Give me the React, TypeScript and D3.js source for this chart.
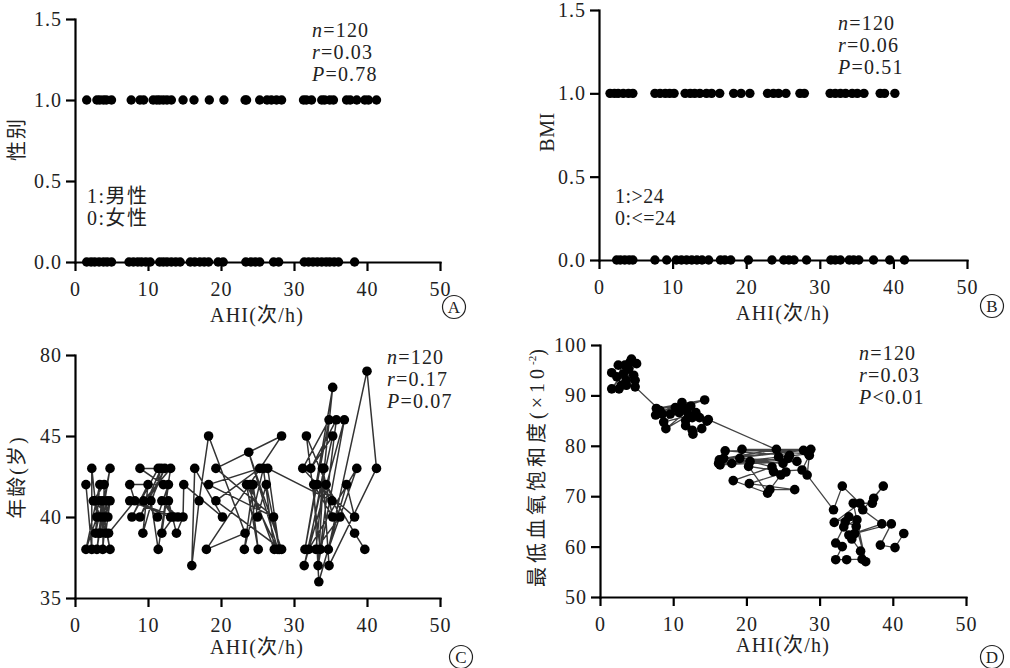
import React, { useEffect, useRef } from 'react';
import * as d3 from 'd3';

// tick values
const ahiTicks = [0, 10, 20, 30, 40, 50];
const binaryTicks = [0, 0.5, 1, 1.5];
const ageTicks = [35, 40, 45, 50];
const ageTickLabels = ['35', '40', '45', '80'];
const spo2Ticks = [50, 60, 70, 80, 90, 100];

// A: gender (1 male / 0 female) vs AHI
const maleAhi = [1.6, 3.0, 3.4, 3.9, 4.3, 5.0, 7.7, 8.9, 9.4, 10.7, 11.2, 11.6, 12.1, 12.6, 13.2, 14.8, 16.3, 18.4, 20.4,
  23.3, 23.5, 25.3, 26.3, 26.9, 27.6, 28.3, 31.3, 31.7, 32.4, 33.8, 34.2, 34.9, 35.4, 37.2, 37.7, 38.6, 39.7, 40.2, 41.3];
const femaleAhi = [1.6, 2.2, 2.7, 3.3, 3.9, 4.4, 5.0, 7.4, 8.0, 8.6, 9.1, 9.7, 10.3, 11.6, 12.1, 12.6, 13.2, 13.8, 14.4,
  15.8, 16.4, 17.1, 17.7, 18.3, 19.6, 20.3, 23.4, 24.1, 24.7, 25.3, 27.2, 27.9, 31.4, 32.0, 32.6, 33.2, 33.8, 34.4, 34.9,
  35.5, 36.1, 38.3];

// B: BMI (1 >24 / 0 <=24) vs AHI
const bmiHighAhi = [1.5, 2.1, 2.6, 3.3, 4.0, 4.6, 7.6, 8.3, 9.0, 9.6, 10.2, 11.7, 12.4, 13.0, 13.7, 14.6, 15.3, 16.4,
  18.3, 19.3, 20.5, 22.9, 23.7, 24.4, 25.4, 27.3, 27.9, 31.4, 32.1, 32.8, 33.5, 34.4, 35.1, 36.0, 38.2, 38.8, 40.2];
const bmiLowAhi = [2.4, 2.9, 3.5, 4.1, 4.6, 7.6, 9.2, 10.5, 11.2, 11.9, 12.6, 13.3, 14.0, 14.9, 16.5, 17.1, 17.9, 20.3,
  23.5, 25.1, 25.8, 26.5, 28.2, 31.5, 32.1, 32.8, 34.0, 34.6, 35.3, 37.3, 39.5, 41.5];

// C: age vs AHI, in record order
const ageAhi = [
  1.5, 2.3, 2.3, 3.0, 1.5, 3.4, 2.8, 3.8, 3.0, 4.8, 3.5, 2.5, 4.0, 3.8, 4.4, 3.2, 4.0, 4.8, 3.4, 4.5, 2.7, 4.2, 4.8, 3.5, 4.6,
  8.2, 7.5, 12.1, 8.9, 11.4, 7.8, 10.0, 9.3, 11.8, 8.9, 12.3, 10.4, 11.4, 13.1, 9.4, 11.3, 12.8, 11.9, 13.5, 11.9, 14.1,
  7.5, 13.1, 12.8, 13.9, 14.8, 14.9,
  20.2, 16.4, 16.0, 17.0, 18.3, 23.3, 18.0, 28.3, 19.3, 27.2, 18.3, 25.3, 19.3, 28.3, 23.8, 27.8, 23.5, 25.1, 24.0, 27.3,
  25.8, 23.2, 24.4, 25.0, 26.2, 28.0, 26.4,
  35.2, 31.2, 34.8, 31.5, 35.3, 33.0, 36.3, 31.7, 33.6, 35.8, 32.3, 35.3, 31.4, 36.9, 33.3, 34.1, 32.0, 38.6, 34.7, 40.0,
  41.3, 34.8, 33.9, 35.3, 32.7, 33.4, 37.2, 38.3, 33.2, 34.4, 38.3, 39.7];
const ageYears = [
  42, 38, 43, 40, 38, 42, 39, 41, 38, 43, 40, 41, 42, 38, 41, 39, 40, 38, 41, 40, 41, 39, 41, 39, 39,
  41, 42, 42, 43, 43, 40, 42, 39, 43, 40, 43, 41, 38, 43, 41, 40, 42, 39, 40, 41, 40,
  41, 40, 41, 39, 40, 42,
  40, 43, 37, 41, 45, 39, 38, 45, 43, 40, 42, 43, 41, 38, 44, 38, 42, 38, 42, 38,
  43, 38, 42, 40, 42, 38, 43,
  41, 43, 46, 38, 48, 38, 40, 45, 38, 46, 43, 45, 37, 46, 37, 43, 38, 43, 38, 49,
  43, 37, 43, 40, 42, 36, 42, 40, 42, 42, 39, 38];

// D: lowest SpO2 vs AHI, in record order
const spo2Ahi = [
  1.6, 3.6, 2.5, 4.1, 1.6, 3.2, 4.3, 2.6, 3.9, 4.6, 2.3, 5.0, 2.9, 3.4, 4.8, 3.6, 4.8,
  8.2, 12.4, 7.7, 14.3, 8.5, 11.2, 7.6, 13.1, 9.6, 11.4, 8.7, 12.1, 9.0, 11.9, 10.3, 12.6, 10.8, 13.6, 11.7, 12.6, 11.7,
  12.7, 13.9, 14.6, 14.8,
  25.9, 17.1, 27.8, 16.3, 24.1, 16.9, 28.8, 19.4, 28.5, 16.2, 25.7, 18.0, 24.4, 16.4, 26.9, 19.1, 25.0, 20.5, 23.5, 18.2,
  22.9, 20.3, 25.4, 20.4, 26.6, 23.2, 24.7, 23.7, 27.6, 28.6, 28.3,
  31.9, 33.1, 35.5, 32.0, 34.0, 32.2, 33.1, 32.2, 33.7, 35.8, 35.6, 34.4, 34.8, 35.1, 33.3, 33.5, 35.0, 36.3, 34.6, 37.2,
  37.4, 38.7, 35.9, 38.5, 34.0, 39.8, 38.3, 40.3, 41.5];
const spo2Values = [
  94.5, 93, 96, 96.6, 91.3, 94.3, 97.2, 91.3, 95.2, 94, 93.7, 96.3, 92, 96, 93, 92, 91.7,
  87, 87.9, 87.4, 89.1, 86.3, 88.6, 86.1, 86.6, 86.3, 87.6, 84.7, 86, 83.4, 86.9, 87.6, 85.6, 86.6, 85.6, 85, 83.1, 84,
  82.3, 83.4, 84.9, 85.2,
  78.1, 79, 79.1, 77.2, 79.3, 77.5, 79.3, 79.3, 78.4, 76.5, 77.5, 76.5, 77.8, 76.2, 76.9, 77.5, 76.5, 76.9, 75.8, 73.1,
  70.6, 75.9, 74.8, 72.5, 71.3, 71.3, 74.2, 74.9, 75.2, 78.1, 74.2,
  67.3, 72, 68.6, 64.8, 65.9, 60.7, 60, 57.4, 57.4, 57.5, 59.1, 61.5, 62.6, 65.3, 63.9, 64.9, 64, 57, 68.6, 68.6,
  69.6, 72, 67.3, 64.5, 62.3, 64.5, 60.3, 59.8, 62.6];

const FONT = '"Liberation Serif", "Times New Roman", "Noto Sans CJK SC", serif';
const TXT = '#222';
const FS = 20;

function drawAxes(g: any, x: any, y: any, yTicks: number[], yFormat: (d: any, i: number) => string) {
  const xa = g.append('g')
    .attr('transform', `translate(0,${y.range()[0]})`)
    .call(d3.axisBottom(x).tickValues(ahiTicks).tickSize(9).tickSizeOuter(0).tickPadding(11));
  const ya = g.append('g')
    .attr('transform', `translate(${x.range()[0]},0)`)
    .call(d3.axisLeft(y).tickValues(yTicks).tickFormat(yFormat).tickSize(9).tickSizeOuter(0).tickPadding(4));
  [xa, ya].forEach((a) => {
    a.attr('font-family', FONT).attr('font-size', FS);
    a.select('.domain').attr('stroke', '#000').attr('stroke-width', 2.2).attr('stroke-linecap', 'square');
    a.selectAll('.tick line').attr('stroke', '#000').attr('stroke-width', 2.2);
    a.selectAll('.tick text').attr('fill', TXT).attr('letter-spacing', 1);
  });
}

function drawStats(g: any, x0: number, y0: number, lines: [string, string][]) {
  lines.forEach(([sym, rest], i) => {
    const t = g.append('text')
      .attr('x', x0).attr('y', y0 + i * 22)
      .attr('font-family', FONT).attr('font-size', FS).attr('letter-spacing', 1.2).attr('fill', TXT);
    t.append('tspan').attr('font-style', 'italic').text(sym);
    t.append('tspan').text(rest);
  });
}

function legendLine(g: any, x: number, y: number, label: string, spacing: number) {
  g.append('text').attr('x', x).attr('y', y)
    .attr('font-family', FONT).attr('font-size', FS)
    .attr('letter-spacing', spacing).attr('fill', TXT)
    .text(label);
}

function xTitle(g: any, cx: number, y: number) {
  g.append('text')
    .attr('x', cx).attr('y', y)
    .attr('text-anchor', 'middle')
    .attr('font-family', FONT).attr('font-size', FS).attr('letter-spacing', 1.2)
    .attr('fill', TXT)
    .text('AHI(次/h)');
}

function yTitle(g: any, cx: number, cy: number, label: string, spacing: number) {
  return g.append('text')
    .attr('transform', `translate(${cx},${cy}) rotate(-90)`)
    .attr('text-anchor', 'middle')
    .attr('dy', '0.35em')
    .attr('font-family', FONT).attr('font-size', FS).attr('letter-spacing', spacing)
    .attr('fill', TXT)
    .text(label);
}

function panelTag(g: any, cx: number, cy: number, letter: string) {
  g.append('circle').attr('cx', cx).attr('cy', cy).attr('r', 11.5)
    .attr('fill', 'none').attr('stroke', '#222').attr('stroke-width', 1.2);
  g.append('text').attr('x', cx).attr('y', cy).attr('dy', '0.36em')
    .attr('text-anchor', 'middle')
    .attr('font-family', FONT).attr('font-size', 17).attr('fill', TXT)
    .text(letter);
}

function dots(g: any, pts: [number, number][], x: any, y: any, r: number) {
  g.append('g').selectAll('circle')
    .data(pts)
    .join('circle')
    .attr('cx', (d: [number, number]) => x(d[0]))
    .attr('cy', (d: [number, number]) => y(d[1]))
    .attr('r', r)
    .attr('fill', '#000');
}

export default function App() {
  const ref = useRef<SVGSVGElement | null>(null);

  useEffect(() => {
    if (!ref.current) return;
    const svg = d3.select(ref.current);
    svg.selectAll('*').remove();
    const fmt1 = (d: any) => d3.format('.1f')(d);

    // Panel A
    {
      const x = d3.scaleLinear().domain([0, 50]).range([75, 440]);
      const y = d3.scaleLinear().domain([0, 1.5]).range([262, 19]);
      const g = svg.append('g');
      drawAxes(g, x, y, binaryTicks, fmt1);
      const pts: [number, number][] = [
        ...maleAhi.map((a) => [a, 1] as [number, number]),
        ...femaleAhi.map((a) => [a, 0] as [number, number]),
      ];
      dots(g, pts, x, y, 4.7);
      drawStats(g, 312, 37, [['n', '=120'], ['r', '=0.03'], ['P', '=0.78']]);
      legendLine(g, 87, 203, '1:男性', 1.5);
      legendLine(g, 87, 225, '0:女性', 1.5);
      xTitle(g, 257, 322);
      yTitle(g, 17, 139, '性别', 2);
      panelTag(g, 454, 307, 'A');
    }

    // Panel B
    {
      const x = d3.scaleLinear().domain([0, 50]).range([599, 967]);
      const y = d3.scaleLinear().domain([0, 1.5]).range([260, 10]);
      const g = svg.append('g');
      drawAxes(g, x, y, binaryTicks, fmt1);
      const pts: [number, number][] = [
        ...bmiHighAhi.map((a) => [a, 1] as [number, number]),
        ...bmiLowAhi.map((a) => [a, 0] as [number, number]),
      ];
      dots(g, pts, x, y, 4.7);
      drawStats(g, 838, 30, [['n', '=120'], ['r', '=0.06'], ['P', '=0.51']]);
      legendLine(g, 615, 203, '1:>24', 0.5);
      legendLine(g, 615, 225, '0:<=24', 0.5);
      xTitle(g, 783, 320);
      yTitle(g, 547, 132, 'BMI', 0.5);
      panelTag(g, 992, 306, 'B');
    }

    // Panel C
    {
      const x = d3.scaleLinear().domain([0, 50]).range([75, 440]);
      const y = d3.scaleLinear().domain([35, 50]).range([598, 355]);
      const g = svg.append('g');
      drawAxes(g, x, y, ageTicks, (_d: any, i: number) => ageTickLabels[i]);
      const pts: [number, number][] = ageAhi.map((a, i) => [a, ageYears[i]]);
      g.append('path').datum(pts)
        .attr('fill', 'none').attr('stroke', '#333').attr('stroke-width', 1.5)
        .attr('d', d3.line<[number, number]>().x((d) => x(d[0])).y((d) => y(d[1])));
      dots(g, pts, x, y, 4.8);
      drawStats(g, 387, 364, [['n', '=120'], ['r', '=0.17'], ['P', '=0.07']]);
      xTitle(g, 257, 654);
      yTitle(g, 17, 477, '年龄(岁)', 2);
      panelTag(g, 461, 657, 'C');
    }

    // Panel D
    {
      const x = d3.scaleLinear().domain([0, 50]).range([600, 966]);
      const y = d3.scaleLinear().domain([50, 100]).range([597, 345]);
      const g = svg.append('g');
      drawAxes(g, x, y, spo2Ticks, (d: any) => String(d));
      const pts: [number, number][] = spo2Ahi.map((a, i) => [a, spo2Values[i]]);
      g.append('path').datum(pts)
        .attr('fill', 'none').attr('stroke', '#444').attr('stroke-width', 1.3)
        .attr('d', d3.line<[number, number]>().x((d) => x(d[0])).y((d) => y(d[1])));
      dots(g, pts, x, y, 4.8);
      drawStats(g, 859, 360, [['n', '=120'], ['r', '=0.03'], ['P', '<0.01']]);
      xTitle(g, 783, 652);
      const t = yTitle(g, 537, 466, '', 4);
      t.append('tspan').text('最低血氧饱和度(×10');
      t.append('tspan').attr('font-size', 11).attr('letter-spacing', 0).attr('dy', -8).text('-2');
      t.append('tspan').attr('dy', 8).text(')');
      panelTag(g, 992, 657, 'D');
    }
  }, []);

  return (
    <svg
      ref={ref}
      width={1010}
      height={668}
      style={{ position: 'absolute', left: 0, top: 0, background: '#fff' }}
    />
  );
}
